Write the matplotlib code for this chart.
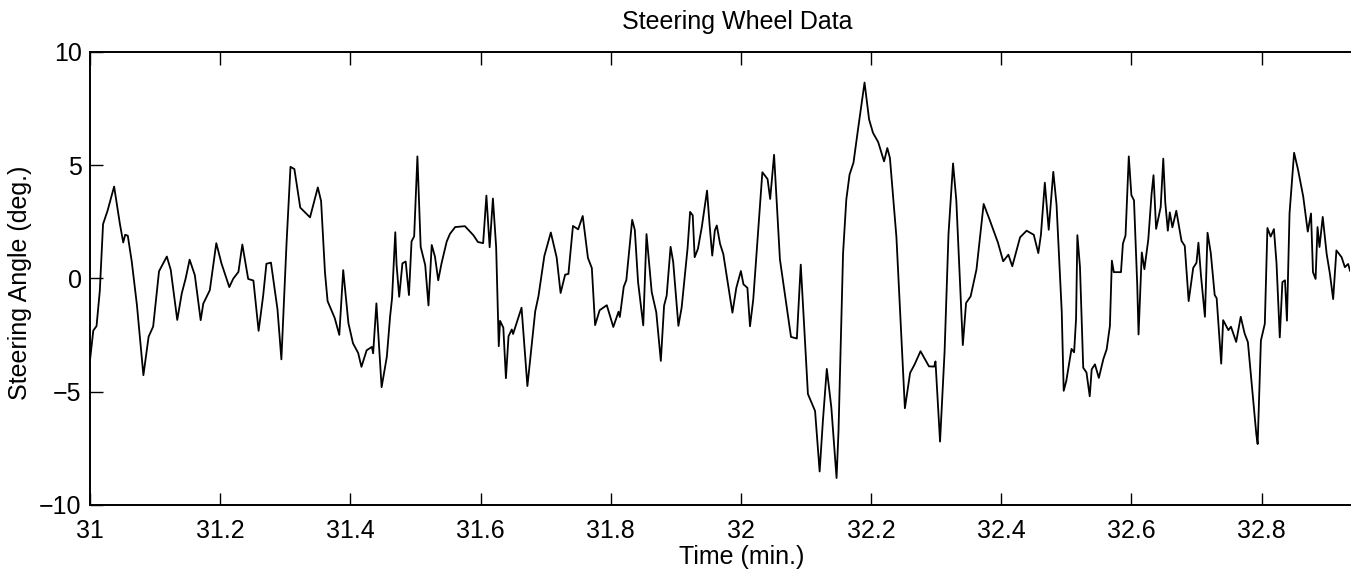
import matplotlib
matplotlib.use('Agg')
import matplotlib.pyplot as plt

plt.rcParams['font.family'] = ['Liberation Sans', 'DejaVu Sans']
plt.rcParams['font.size'] = 18

# steering wheel angle, sampled from the run log (time in minutes)
time_min = [
    31.000, 31.005, 31.010, 31.015, 31.020, 31.027, 31.037, 31.046, 31.051, 31.054,
    31.058, 31.064, 31.072, 31.082, 31.090, 31.097, 31.106, 31.118, 31.124, 31.134,
    31.141, 31.147, 31.153, 31.161, 31.170, 31.174, 31.184, 31.194, 31.202, 31.214,
    31.220, 31.228, 31.234, 31.243, 31.251, 31.259, 31.266, 31.271, 31.278, 31.288,
    31.294, 31.302, 31.308, 31.314, 31.323, 31.338, 31.350, 31.355, 31.361, 31.365,
    31.376, 31.383, 31.389, 31.397, 31.404, 31.412, 31.417, 31.425, 31.433, 31.435,
    31.440, 31.448, 31.456, 31.461, 31.464, 31.469, 31.471, 31.475, 31.480, 31.485,
    31.490, 31.494, 31.498, 31.503, 31.508, 31.515, 31.520, 31.525, 31.530, 31.535,
    31.540, 31.548, 31.553, 31.561, 31.576, 31.589, 31.596, 31.604, 31.609, 31.614,
    31.619, 31.624, 31.628, 31.630, 31.635, 31.639, 31.643, 31.648, 31.650, 31.653,
    31.663, 31.672, 31.684, 31.689, 31.698, 31.708, 31.717, 31.723, 31.730, 31.735,
    31.742, 31.750, 31.757, 31.765, 31.771, 31.776, 31.783, 31.794, 31.804, 31.812,
    31.814, 31.820, 31.824, 31.833, 31.837, 31.842, 31.850, 31.855, 31.863, 31.870,
    31.877, 31.882, 31.886, 31.892, 31.896, 31.904, 31.909, 31.918, 31.922, 31.926,
    31.929, 31.934, 31.940, 31.948, 31.952, 31.956, 31.960, 31.963, 31.968, 31.973,
    31.987, 31.993, 32.000, 32.004, 32.010, 32.014, 32.019, 32.027, 32.033, 32.041,
    32.045, 32.051, 32.060, 32.077, 32.086, 32.092, 32.103, 32.114, 32.121, 32.126,
    32.132, 32.139, 32.147, 32.150, 32.157, 32.162, 32.167, 32.173, 32.180, 32.190,
    32.197, 32.203, 32.211, 32.220, 32.225, 32.229, 32.239, 32.252, 32.260, 32.267,
    32.276, 32.289, 32.297, 32.299, 32.306, 32.313, 32.319, 32.326, 32.331, 32.341,
    32.346, 32.353, 32.362, 32.373, 32.382, 32.395, 32.403, 32.411, 32.417, 32.429,
    32.439, 32.450, 32.457, 32.461, 32.467, 32.473, 32.480, 32.485, 32.493, 32.496,
    32.500, 32.508, 32.512, 32.515, 32.517, 32.521, 32.526, 32.531, 32.536, 32.539,
    32.544, 32.550, 32.557, 32.562, 32.567, 32.570, 32.573, 32.584, 32.587, 32.591,
    32.596, 32.600, 32.604, 32.609, 32.611, 32.616, 32.620, 32.626, 32.631, 32.634,
    32.638, 32.645, 32.649, 32.652, 32.656, 32.659, 32.663, 32.669, 32.677, 32.682,
    32.688, 32.695, 32.700, 32.703, 32.707, 32.713, 32.717, 32.722, 32.728, 32.731,
    32.738, 32.741, 32.749, 32.753, 32.761, 32.768, 32.774, 32.779, 32.792, 32.794,
    32.799, 32.805, 32.809, 32.814, 32.819, 32.823, 32.828, 32.832, 32.836, 32.839,
    32.843, 32.850, 32.856, 32.864, 32.871, 32.876, 32.879, 32.883, 32.886, 32.889,
    32.894, 32.900, 32.905, 32.910, 32.915, 32.923, 32.928, 32.933, 32.936,
]
angle_deg = [
    -3.60, -2.30, -2.10, -0.55, 2.40, 3.00, 4.06, 2.39, 1.59, 1.93,
    1.89, 0.77, -1.16, -4.27, -2.57, -2.12, 0.32, 0.97, 0.38, -1.83,
    -0.65, 0.01, 0.83, 0.15, -1.84, -1.11, -0.52, 1.56, 0.66, -0.38,
    -0.01, 0.29, 1.50, -0.02, -0.09, -2.31, -0.76, 0.65, 0.70, -1.36,
    -3.57, 1.60, 4.93, 4.83, 3.13, 2.70, 4.02, 3.42, 0.26, -1.00,
    -1.75, -2.49, 0.37, -1.97, -2.86, -3.29, -3.90, -3.17, -3.02, -3.30,
    -1.10, -4.80, -3.46, -1.69, -0.88, 2.04, 0.60, -0.81, 0.67, 0.75,
    -0.73, 1.64, 1.86, 5.39, 1.40, 0.59, -1.19, 1.48, 0.96, -0.08,
    0.66, 1.63, 1.97, 2.27, 2.31, 1.91, 1.61, 1.56, 3.66, 1.38,
    3.53, 1.38, -2.99, -1.87, -2.17, -4.40, -2.55, -2.25, -2.45, -2.18,
    -1.29, -4.75, -1.45, -0.78, 0.99, 2.03, 0.92, -0.64, 0.17, 0.20,
    2.32, 2.17, 2.76, 0.91, 0.46, -2.06, -1.40, -1.18, -2.14, -1.47,
    -1.70, -0.37, -0.07, 2.59, 2.15, -0.15, -2.07, 1.96, -0.60, -1.49,
    -3.64, -1.20, -0.75, 1.40, 0.73, -2.09, -1.28, 1.31, 2.94, 2.79,
    0.94, 1.31, 2.28, 3.88, 2.34, 1.01, 2.12, 2.34, 1.53, 1.08,
    -1.51, -0.41, 0.33, -0.26, -0.41, -2.11, -0.93, 2.32, 4.69, 4.39,
    3.51, 5.46, 0.84, -2.58, -2.65, 0.61, -5.10, -5.85, -8.52, -6.29,
    -3.99, -5.70, -8.81, -6.74, 1.11, 3.49, 4.59, 5.11, 6.59, 8.65,
    7.02, 6.43, 6.02, 5.17, 5.76, 5.32, 1.82, -5.73, -4.17, -3.79,
    -3.21, -3.88, -3.89, -3.66, -7.20, -3.22, 1.96, 5.08, 3.45, -2.94,
    -1.08, -0.79, 0.40, 3.29, 2.61, 1.58, 0.76, 1.05, 0.54, 1.82,
    2.11, 1.93, 1.12, 1.93, 4.23, 2.15, 4.71, 3.26, -1.48, -4.96,
    -4.52, -3.11, -3.26, -1.78, 1.91, 0.51, -3.94, -4.15, -5.20, -4.01,
    -3.79, -4.39, -3.55, -3.13, -2.09, 0.79, 0.28, 0.28, 1.54, 1.90,
    5.39, 3.68, 3.45, -0.30, -2.47, 1.15, 0.41, 1.73, 3.73, 4.56,
    2.19, 3.15, 5.29, 3.38, 2.11, 2.92, 2.26, 2.99, 1.66, 1.44,
    -1.00, 0.47, 0.69, 1.58, 0.10, -1.69, 2.02, 1.12, -0.73, -0.87,
    -3.76, -1.84, -2.28, -2.13, -2.80, -1.69, -2.43, -2.81, -6.89, -7.31,
    -2.74, -2.00, 2.23, 1.85, 2.18, 0.67, -2.60, -0.16, -0.08, -1.86,
    2.88, 5.55, 4.81, 3.62, 2.07, 2.87, 0.28, -0.02, 2.27, 1.39,
    2.72, 1.09, 0.21, -0.91, 1.24, 0.94, 0.50, 0.64, 0.34,
]

x_ticks = [31, 31.2, 31.4, 31.6, 31.8, 32, 32.2, 32.4, 32.6, 32.8]
x_tick_labels = ['31', '31.2', '31.4', '31.6', '31.8', '32', '32.2', '32.4', '32.6', '32.8']
y_ticks = [-10, -5, 0, 5, 10]

fig = plt.figure(figsize=(13.6, 5.77), dpi=100)
ax = fig.add_axes([0.0662, 0.1248, 0.9265, 0.7851])

ax.plot(time_min, angle_deg, color='black', linewidth=1.3)

ax.set_xlim(31, 32.936)
ax.set_ylim(-10, 10)
ax.set_xticks(x_ticks)
ax.set_xticklabels(x_tick_labels)
ax.set_yticks(y_ticks)

# box without the right edge, ticks pointing inward
for side in ['left', 'top', 'bottom']:
    ax.spines[side].set_linewidth(1.4)
ax.spines['right'].set_visible(False)
ax.tick_params(axis='both', direction='in', length=9, width=1.0,
               top=True, right=False, labelsize=18)
ax.tick_params(axis='x', pad=10)
ax.tick_params(axis='y', pad=6)

ax.set_xlabel('Time (min.)', fontsize=18)
ax.xaxis.set_label_coords(0.517, -0.088)
ax.set_ylabel('Steering Angle (deg.)', fontsize=18)
ax.yaxis.set_label_coords(-0.046, 0.49)

fig.text(737 / 1360, 0.9497, 'Steering Wheel Data', ha='center', va='baseline', fontsize=18)

fig.savefig('out.png', dpi=100, facecolor='white')
